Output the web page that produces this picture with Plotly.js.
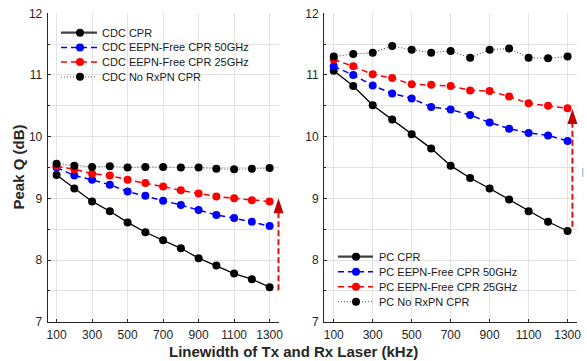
<!DOCTYPE html>
<html>
<head>
<meta charset="utf-8">
<script src="https://cdn.plot.ly/plotly-3.0.1.min.js"></script>
<style>html,body{margin:0;padding:0;background:#fff;}#chart{width:587px;height:361px;}</style>
</head>
<body>
<div id="chart"></div>
<script>
// ---------- data ----------
const linewidth = [100, 200, 300, 400, 500, 600, 700, 800, 900, 1000, 1100, 1200, 1300];
const xTickVals = [100, 300, 500, 700, 900, 1100, 1300];
const yTickVals = [7, 8, 9, 10, 11, 12];

const cdcCPR    = [9.38, 9.16, 8.95, 8.79, 8.61, 8.45, 8.32, 8.19, 8.03, 7.91, 7.78, 7.69, 7.56];
const cdcEEPN50 = [9.50, 9.37, 9.30, 9.22, 9.11, 9.04, 8.96, 8.89, 8.81, 8.73, 8.68, 8.62, 8.55];
const cdcEEPN25 = [9.52, 9.47, 9.40, 9.37, 9.30, 9.25, 9.19, 9.13, 9.08, 9.03, 9.00, 8.97, 8.95];
const cdcNoRx   = [9.56, 9.53, 9.51, 9.52, 9.50, 9.51, 9.51, 9.50, 9.50, 9.48, 9.47, 9.48, 9.49];

const pcCPR    = [11.07, 10.82, 10.51, 10.28, 10.04, 9.81, 9.53, 9.33, 9.16, 8.98, 8.79, 8.62, 8.47];
const pcEEPN50 = [11.14, 11.00, 10.83, 10.70, 10.62, 10.48, 10.44, 10.35, 10.23, 10.13, 10.06, 10.02, 9.93];
const pcEEPN25 = [11.25, 11.14, 11.01, 10.95, 10.85, 10.84, 10.82, 10.75, 10.74, 10.65, 10.54, 10.50, 10.46];
const pcNoRx   = [11.30, 11.34, 11.36, 11.47, 11.41, 11.36, 11.39, 11.28, 11.41, 11.43, 11.28, 11.27, 11.30];

const namesCDC = ['CDC CPR', 'CDC EEPN-Free CPR 50GHz', 'CDC EEPN-Free CPR 25GHz', 'CDC No RxPN CPR'];
const namesPC  = ['PC CPR', 'PC EEPN-Free CPR 50GHz', 'PC EEPN-Free CPR 25GHz', 'PC No RxPN CPR'];

// arrows (data units): [left panel, right panel]
const arrowX      = [1350, 1325];
const arrowBottom = [7.51, 8.54];
const arrowTip    = [9.00, 10.45];

// ---------- geometry ----------
const W = 587, H = 361;
const XR = [50, 1350], YR = [7, 12];
const panelPx = [[47.7, 278.5], [324, 577.3]];
const yPx = [13.3, 321.7];
const pX = v => v / W;
const pY = v => 1 - v / H;
const dataPxX = (p, x) => panelPx[p][0] + (x - XR[0]) / (XR[1] - XR[0]) * (panelPx[p][1] - panelPx[p][0]);
const dataPxY = v => yPx[0] + (YR[1] - v) / (YR[1] - YR[0]) * (yPx[1] - yPx[0]);

const styles = [
  {line: {color: '#000000', width: 1.3, dash: 'solid'}, mcol: '#000000', leg: {color: '#404040', width: 2.2, dash: 'solid'}},
  {line: {color: '#0000FF', width: 1.5, dash: '6px,4px'}, mcol: '#0000FF', leg: {color: '#0000FF', width: 1.5, dash: '6px,4px'}},
  {line: {color: '#FF0000', width: 1.5, dash: '6px,4px'}, mcol: '#FF0000', leg: {color: '#FF0000', width: 1.5, dash: '6px,4px'}},
  {line: {color: '#505050', width: 1.1, dash: '1px,2px'}, mcol: '#000000', leg: {color: '#808080', width: 1.2, dash: '1px,2px'}}
];

const seriesCDC = [cdcCPR, cdcEEPN50, cdcEEPN25, cdcNoRx];
const seriesPC  = [pcCPR, pcEEPN50, pcEEPN25, pcNoRx];

const traces = [];
seriesCDC.forEach((ys, i) => traces.push({
  x: linewidth, y: ys, name: namesCDC[i], xaxis: 'x', yaxis: 'y', type: 'scatter', mode: 'lines+markers',
  line: styles[i].line, marker: {color: styles[i].mcol, size: 8, symbol: 'circle'}, showlegend: false
}));
seriesPC.forEach((ys, i) => traces.push({
  x: linewidth, y: ys, name: namesPC[i], xaxis: 'x2', yaxis: 'y2', type: 'scatter', mode: 'lines+markers',
  line: styles[i].line, marker: {color: styles[i].mcol, size: 8, symbol: 'circle'}, showlegend: false
}));

const FONT = 'Liberation Sans, Arial, Helvetica, sans-serif';
const AXC = '#262626';
const GRID = '#e3e3e3';

function xAxis(p) {
  return {
    domain: [pX(panelPx[p][0]), pX(panelPx[p][1])], range: XR, anchor: p ? 'y2' : 'y',
    tickmode: 'array', tickvals: xTickVals, ticks: 'inside', ticklen: 3, tickcolor: AXC,
    showgrid: true, gridcolor: GRID, gridwidth: 1, zeroline: false,
    showline: true, linecolor: AXC, linewidth: 1,
    tickfont: {family: FONT, size: 12, color: AXC}, ticklabelstandoff: 2
  };
}
function yAxis(p) {
  return {
    domain: [pY(yPx[1]), pY(yPx[0])], range: YR, anchor: p ? 'x2' : 'x',
    tickmode: 'array', tickvals: yTickVals, ticks: 'inside', ticklen: 3, tickcolor: AXC,
    minor: {tickvals: [7.5, 8.5, 9.5, 10.5, 11.5], ticks: 'inside', ticklen: 2, tickcolor: AXC, showgrid: true, gridcolor: GRID, gridwidth: 1},
    showgrid: true, gridcolor: GRID, gridwidth: 1, zeroline: false,
    showline: true, linecolor: AXC, linewidth: 1,
    tickfont: {family: FONT, size: 12, color: AXC}, ticklabelstandoff: 2
  };
}

const shapes = [];
const annotations = [];

// custom legends
const legendGeom = [
  {names: namesCDC, x0: 61, x1: 97, xm: 80, xt: 101, rows: [32.7, 47.5, 62.0, 76.8]},
  {names: namesPC, x0: 338, x1: 373, xm: 356, xt: 378, rows: [256.7, 271.7, 286.7, 301.7]}
];
legendGeom.forEach(g => {
  g.names.forEach((nm, i) => {
    const yy = g.rows[i];
    shapes.push({type: 'line', xref: 'paper', yref: 'paper', x0: pX(g.x0), x1: pX(g.x1), y0: pY(yy), y1: pY(yy),
      line: styles[i].leg});
    shapes.push({type: 'circle', xref: 'paper', yref: 'paper', xsizemode: 'pixel', ysizemode: 'pixel',
      xanchor: pX(g.xm), yanchor: pY(yy), x0: -4, x1: 4, y0: -4, y1: 4,
      fillcolor: styles[i].mcol, line: {width: 0}});
    annotations.push({text: nm, xref: 'paper', yref: 'paper', x: pX(g.xt), y: pY(yy), xanchor: 'left', yanchor: 'middle',
      showarrow: false, borderpad: 0, font: {family: FONT, size: 11, color: '#1a1a1a'}});
  });
});

// arrows
arrowX.forEach((ax, p) => {
  const xp = dataPxX(p, ax);
  const yb = dataPxY(arrowBottom[p]);
  const yt = dataPxY(arrowTip[p]);
  const headLen = 15, headHalf = 5;
  shapes.push({type: 'line', xref: 'paper', yref: 'paper', x0: pX(xp), x1: pX(xp), y0: pY(yb), y1: pY(yt + headLen - 1),
    line: {color: '#D41414', width: 2, dash: '6px,3px'}});
  shapes.push({type: 'path', xref: 'paper', yref: 'paper',
    path: 'M' + pX(xp - headHalf) + ',' + pY(yt + headLen) + ' L' + pX(xp + headHalf) + ',' + pY(yt + headLen) + ' L' + pX(xp) + ',' + pY(yt) + ' Z',
    fillcolor: '#C00000', line: {width: 0}});
});

// small light-blue mark at right edge
shapes.push({type: 'line', xref: 'paper', yref: 'paper', x0: pX(582.7), x1: pX(582.7), y0: pY(168), y1: pY(177),
  line: {color: '#a9c9e8', width: 1.5}});

// axis titles
annotations.push({text: 'Linewidth of Tx and Rx Laser (kHz)', xref: 'paper', yref: 'paper', x: pX(293.8), y: pY(351),
  xanchor: 'center', yanchor: 'middle', showarrow: false, borderpad: 0,
  font: {family: FONT, size: 15, color: AXC, weight: 'bold'}});
annotations.push({text: 'Peak Q (dB)', xref: 'paper', yref: 'paper', x: pX(18), y: pY(167.5), textangle: -90,
  xanchor: 'center', yanchor: 'middle', showarrow: false, borderpad: 0,
  font: {family: FONT, size: 15, color: AXC, weight: 'bold'}});

const layout = {
  width: W, height: H, margin: {l: 0, r: 0, t: 0, b: 0},
  paper_bgcolor: '#ffffff', plot_bgcolor: '#ffffff',
  showlegend: false,
  font: {family: FONT, size: 12, color: AXC},
  xaxis: xAxis(0), yaxis: yAxis(0), xaxis2: xAxis(1), yaxis2: yAxis(1),
  shapes: shapes, annotations: annotations
};

Plotly.newPlot('chart', traces, layout, {staticPlot: true, displayModeBar: false});
</script>
</body>
</html>
